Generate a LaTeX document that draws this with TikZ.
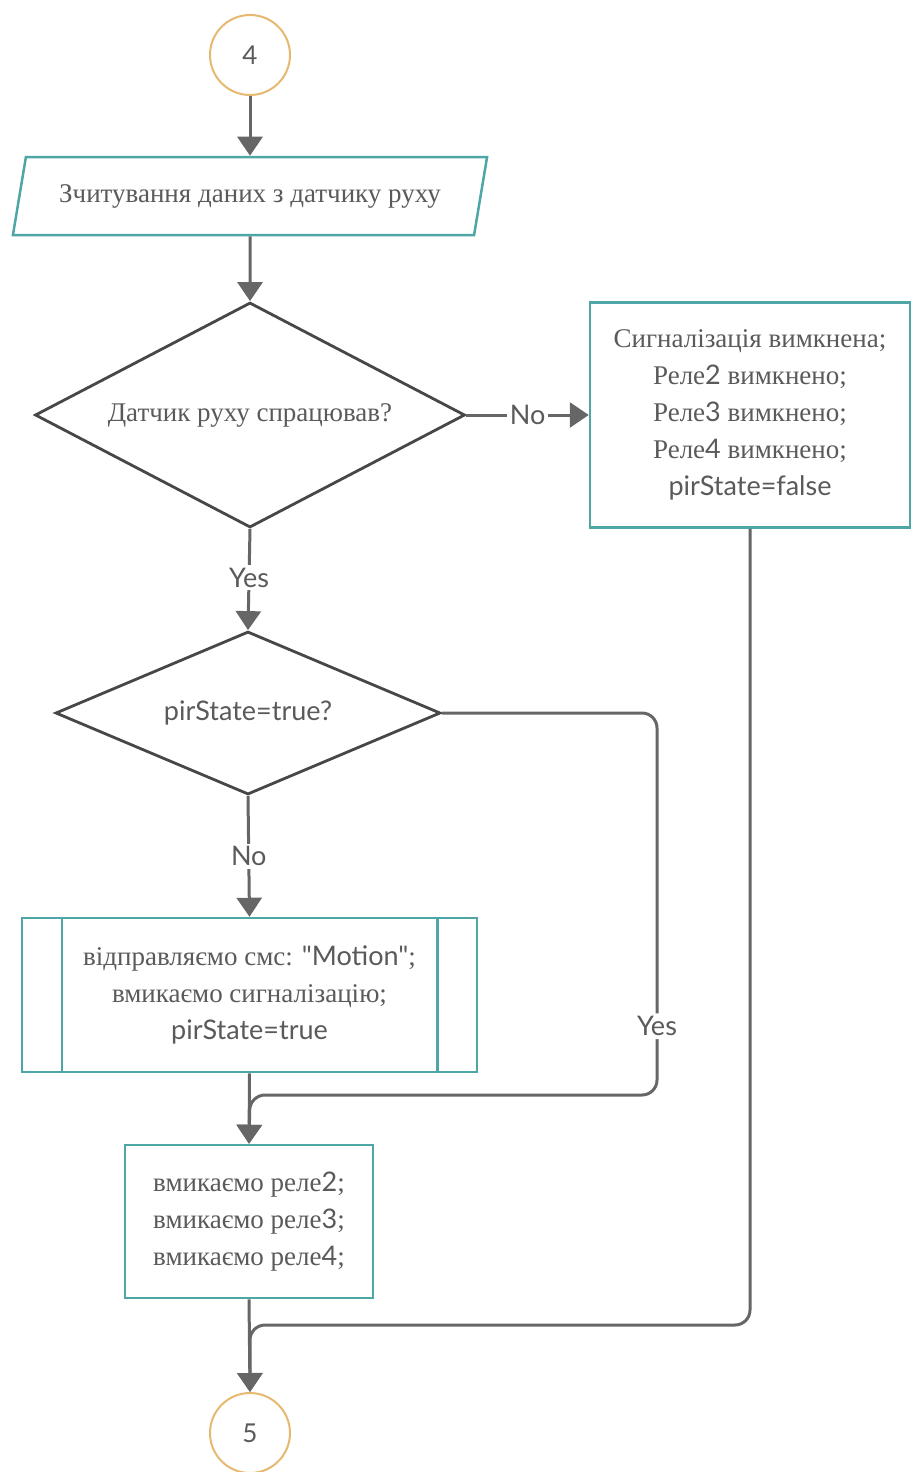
\documentclass[tikz,border=0pt]{standalone}
\usepackage{fontspec}
\setmainfont{Liberation Serif}
\newfontfamily\latin{Lato}
\usetikzlibrary{shapes.geometric,arrows.meta,calc}

\definecolor{tealline}{HTML}{4FA6A6}
\definecolor{ringline}{HTML}{E6B870}
\definecolor{flowgray}{HTML}{666666}
\definecolor{textgray}{HTML}{5A5A5A}

\tikzset{
  txt/.style={text=textgray, font=\fontsize{27}{37}\selectfont, align=center},
  box/.style={txt, draw=tealline, line width=2.5pt, fill=white, inner sep=0pt},
  ring/.style={txt, circle, draw=ringline, line width=2pt, minimum size=80pt, inner sep=0pt, font=\latin\fontsize{26}{30}\selectfont},
  decide/.style={txt, diamond, draw=black!72, line width=2.8pt, inner sep=0pt},
  flow/.style={draw=flowgray, line width=3pt, -{Triangle[width=25pt,length=19pt]}},
  link/.style={draw=flowgray, line width=3pt},
  lbl/.style={txt, fill=white, inner sep=3pt, font=\latin\fontsize{27}{30}\selectfont}
}

\begin{document}
\begin{tikzpicture}[x=1pt,y=-1pt]
  \useasboundingbox (0,0) rectangle (912,1472);

  % shapes
  \node[ring] (c4) at (250,55) {4};
  \node[box, trapezium, trapezium left angle=65, trapezium right angle=115,
        trapezium stretches=true, minimum width=475pt, minimum height=78pt] (in) at (250,196)
        {Зчитування даних з датчику руху};
  \node[decide, aspect=1.9, minimum width=430pt, minimum height=225pt] (q1) at (250,415) {Датчик руху спрацював?};
  \node[box, minimum width=320pt, minimum height=225pt] (off) at (750,415)
        {Сигналізація вимкнена;\\ Реле{\latin 2} вимкнено;\\ Реле{\latin 3} вимкнено;\\
         Реле{\latin 4} вимкнено;\\ {\latin pirState=false}};
  \node[decide, aspect=2.35, minimum width=385pt, minimum height=163pt] (q2) at (248,713) {\latin pirState=true?};
  \node[box, minimum width=455pt, minimum height=154pt] (sub) at (249.5,995)
        {відправляємо смс: {\latin "Motion"};\\ вмикаємо сигналізацію;\\ {\latin pirState=true}};
  \draw[tealline, line width=2.5pt] ($(sub.north west)+(41,0)$) -- ($(sub.south west)+(41,0)$);
  \draw[tealline, line width=2.5pt] ($(sub.north east)+(-41,0)$) -- ($(sub.south east)+(-41,0)$);
  \node[box, minimum width=248pt, minimum height=153pt] (on) at (249,1221.5)
        {вмикаємо реле{\latin 2};\\ вмикаємо реле{\latin 3};\\ вмикаємо реле{\latin 4};};
  \node[ring] (c5) at (250,1433) {5};

  \coordinate (m1) at (250,1095);
  \coordinate (m2) at (250,1325);

  % connectors
  \draw[flow] (c4) -- (in);
  \draw[flow] (in) -- (q1);
  \draw[flow] (q1.east) -- node[lbl, pos=0.5]{No} (off.west);
  \draw[flow] (q1.south) -- node[lbl, pos=0.48]{Yes} (q2.north);
  \draw[flow] (q2.south) -- node[lbl, pos=0.5]{No} (sub.north);
  \draw[flow] (sub.south) -- (on.north);
  \draw[flow, rounded corners=15pt] (q2.east) -- (657,713) -- node[lbl, pos=0.82]{Yes} (657,1095) -- (m1) -- (on.north);
  \draw[flow, rounded corners=15pt] (off.south) |- (m2) -- (c5.north);
  \draw[flow] (on.south) -- (c5.north);
\end{tikzpicture}
\end{document}
